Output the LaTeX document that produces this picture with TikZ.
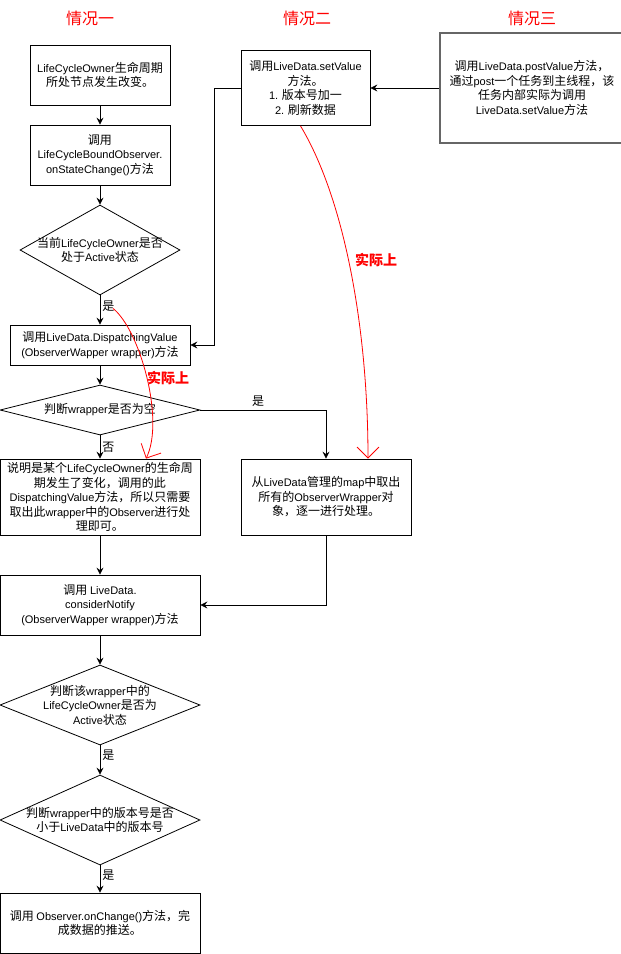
\documentclass[tikz,border=0pt]{standalone}
\usepackage{fontspec}
\setmainfont{Noto Sans CJK SC}
\newfontfamily\latinfont{Liberation Sans}
\usetikzlibrary{arrows.meta,shapes.geometric}
% Latin runs are set in a slightly smaller sans face
\newcommand\en[1]{{\latinfont\fontsize{11pt}{14.5pt}\selectfont #1}}

\tikzset{
  box/.style={draw, line width=0.8pt, align=center, inner sep=0pt,
    font=\fontsize{12pt}{14.5pt}\selectfont},
  dia/.style={draw, diamond, line width=0.8pt, inner sep=0pt},
  txt/.style={align=center, inner sep=0pt, font=\fontsize{12pt}{14.5pt}\selectfont},
  flow/.style={draw, line width=0.8pt, -{Stealth[length=7pt,width=7pt,inset=2.5pt]}},
  note/.style={draw=red, line width=0.8pt, -{Straight Barb[length=11pt,width=22pt]}},
  notetxt/.style={text=red, inner sep=0pt, font=\bfseries\fontsize{14pt}{16pt}\selectfont},
  head/.style={text=red, inner sep=0pt, font=\fontsize{16pt}{18pt}\selectfont},
  yes/.style={inner sep=0pt, font=\fontsize{12pt}{14pt}\selectfont}
}

\begin{document}
\begin{tikzpicture}[x=1pt,y=-1pt]
\useasboundingbox (0,0) rectangle (621,954);
\fill[white] (0,0) rectangle (621,954);

% column headings
\node[head] (h1) at (90,18) {情况一};
\node[head] (h2) at (307,18) {情况二};
\node[head] (h3) at (532,18) {情况三};

% main column
\node[box, minimum width=140pt, minimum height=60pt] (b1) at (100,75)
  {\en{LifeCycleOwner}生命周期\\所处节点发生改变。};
\node[box, minimum width=140pt, minimum height=60pt] (b2) at (100,155)
  {调用\\\en{LifeCycleBoundObserver.}\\\en{onStateChange()}方法};
\node[dia, minimum width=160pt, minimum height=90pt] (d1) at (100,250) {};
\node[txt] (d1t) at (d1) {当前\en{LifeCycleOwner}是否\\处于\en{Active}状态};
\node[box, minimum width=180pt, minimum height=40pt] (b3) at (100,345)
  {调用\en{LiveData.DispatchingValue}\\\en{(ObserverWapper wrapper)}方法};
\node[dia, minimum width=200pt, minimum height=50pt] (d2) at (100,410) {};
\node[txt] (d2t) at (d2) {判断\en{wrapper}是否为空};
\node[box, minimum width=200pt, minimum height=76pt] (b4) at (100,497)
  {说明是某个\en{LifeCycleOwner}的生命周\\期发生了变化，调用的此\\\en{DispatchingValue}方法，所以只需要\\取出此\en{wrapper}中的\en{Observer}进行处\\理即可。};
\node[box, minimum width=170pt, minimum height=76pt] (b5) at (326,497)
  {从\en{LiveData}管理的\en{map}中取出\\所有的\en{ObserverWrapper}对\\象，逐一进行处理。};
\node[box, minimum width=200pt, minimum height=60pt] (b6) at (100,605)
  {调用 \en{LiveData.}\\\en{considerNotify}\\\en{(ObserverWapper wrapper)}方法};
\node[dia, minimum width=200pt, minimum height=80pt] (d3) at (100,705) {};
\node[txt] (d3t) at (d3) {判断该\en{wrapper}中的\\\en{LifeCycleOwner}是否为\\\en{Active}状态};
\node[dia, minimum width=200pt, minimum height=90pt] (d4) at (100,820) {};
\node[txt] (d4t) at (d4) {判断\en{wrapper}中的版本号是否\\小于\en{LiveData}中的版本号};
\node[box, minimum width=200pt, minimum height=60pt] (b7) at (100,923)
  {调用 \en{Observer.onChange()}方法，完\\成数据的推送。};

% setValue / postValue
\node[box, minimum width=129pt, minimum height=75pt] (sv) at (305.5,88)
  {调用\en{LiveData.setValue}\\方法。\\\en{1.} 版本号加一\\\en{2.} 刷新数据};
\node[box, draw=black!60, line width=1.5pt, minimum width=184pt, minimum height=110pt] (pv) at (532,88)
  {调用\en{LiveData.postValue}方法，\\通过\en{post}一个任务到主线程，该\\任务内部实际为调用\\\en{LiveData.setValue}方法};

% flow connectors
\draw[flow] (b1) -- (b2);
\draw[flow] (b2) -- (d1);
\draw[flow] (d1) -- node[yes, pos=0.38, right=2pt] (l1) {是} (b3);
\draw[flow] (b3) -- (d2);
\draw[flow] (d2) -- node[yes, pos=0.5, right=2pt] (l2) {否} (b4);
\draw[flow] (d2.east) -| node[yes, pos=0.23, above=3pt] (l3) {是} (b5.north);
\draw[flow] (b4) -- (b6);
\draw[flow] (b5.south) |- (b6.east);
\draw[flow] (b6) -- (d3);
\draw[flow] (d3) -- node[yes, pos=0.35, right=2pt] (l4) {是} (d4);
\draw[flow] (d4) -- node[yes, pos=0.36, right=2pt] (l5) {是} (b7);
\draw[flow] (pv.west) -- (sv.east);
\draw[flow] (sv.west) -- ++(-26,0) |- (b3.east);

% red annotations
\draw[note] ([xshift=-5pt]sv.south) .. controls (345,200) and (368,330) .. ([xshift=42pt]b5.north);
\node[notetxt] (n1) at (376,260) {实际上};
\draw[note] ([shift={(13,13)}]d1.south) .. controls (140,330) and (165,420) .. ([xshift=46pt]b4.north);
\node[notetxt] (n2) at (168,378) {实际上};
\end{tikzpicture}
\end{document}
